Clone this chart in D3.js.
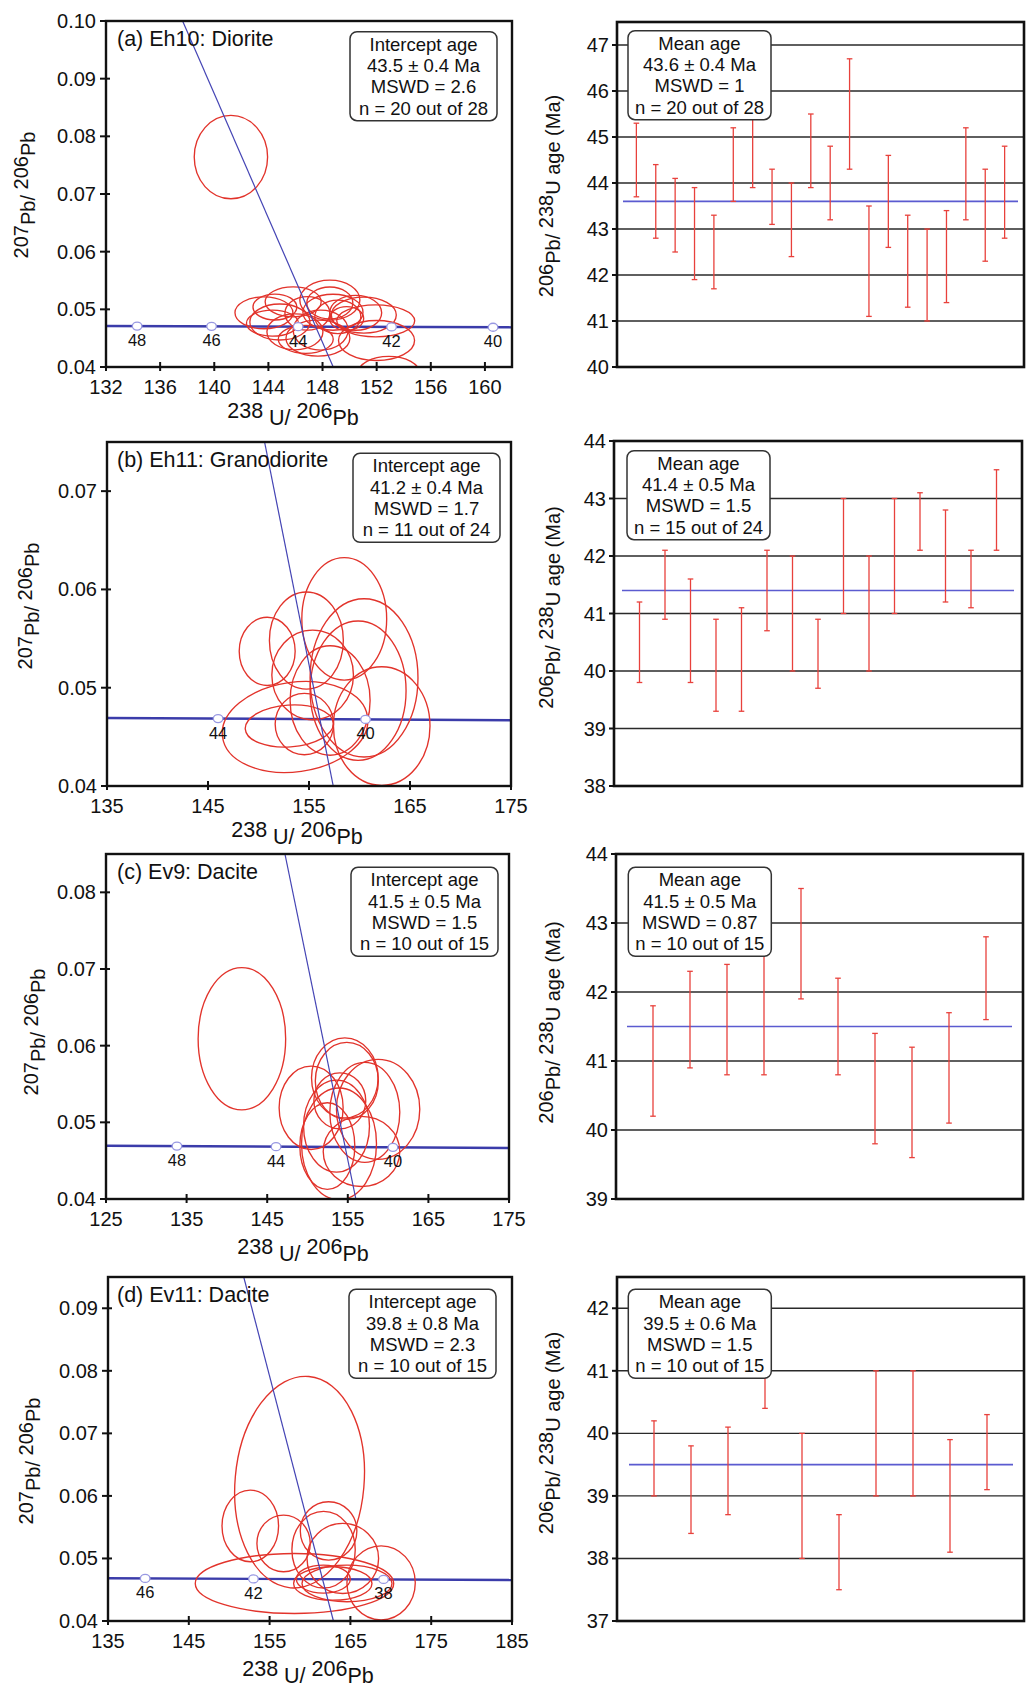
<!DOCTYPE html>
<html><head><meta charset="utf-8">
<script src="https://cdn.jsdelivr.net/npm/d3@7"></script>
<style>
body{margin:0;background:#fff}
svg{display:block}
text{font-family:"Liberation Sans",Arial,Helvetica,sans-serif;fill:#111}
</style>
</head><body>
<svg id="chart" width="1033" height="1688"></svg>
<script>
// ---------------- DATA ----------------
const sampleTitles = ["(a) Eh10: Diorite", "(b) Eh11: Granodiorite", "(c) Ev9: Dacite", "(d) Ev11: Dacite"];
const interceptAgeText = ["43.5 ± 0.4 Ma", "41.2 ± 0.4 Ma", "41.5 ± 0.5 Ma", "39.8 ± 0.8 Ma"];
const interceptMSWD = ["2.6", "1.7", "1.5", "2.3"];
const interceptN = ["n = 20 out of 28", "n = 11 out of 24", "n = 10 out of 15", "n = 10 out of 15"];
const meanAgeText = ["43.6 ± 0.4 Ma", "41.4 ± 0.5 Ma", "41.5 ± 0.5 Ma", "39.5 ± 0.6 Ma"];
const meanMSWD = ["1", "1.5", "0.87", "1.5"];
const meanN = ["n = 20 out of 28", "n = 15 out of 24", "n = 10 out of 15", "n = 10 out of 15"];
const meanAges = [43.6, 41.4, 41.5, 39.5];

// Tera-Wasserburg axes
const xDomainA = [132, 162], yDomainA = [0.04, 0.10];
const xDomainB = [135, 175], yDomainB = [0.04, 0.075];
const xDomainC = [125, 175], yDomainC = [0.04, 0.085];
const xDomainD = [135, 185], yDomainD = [0.04, 0.095];
const xTicksA = [132, 136, 140, 144, 148, 152, 156, 160];
const xTicksB = [135, 145, 155, 165, 175];
const xTicksC = [125, 135, 145, 155, 165, 175];
const xTicksD = [135, 145, 155, 165, 175, 185];
const yTicksA = [0.04, 0.05, 0.06, 0.07, 0.08, 0.09, 0.10];
const yTicksB = [0.04, 0.05, 0.06, 0.07];
const yTicksC = [0.04, 0.05, 0.06, 0.07, 0.08];
const yTicksD = [0.04, 0.05, 0.06, 0.07, 0.08, 0.09];

// error ellipses: [238U/206Pb, 207Pb/206Pb, half-width, half-height, tilt(deg)]
const ellipsesA = [
  [141.23, 0.0764, 2.71, 0.00723, 0],
  [143.67, 0.0494, 2.14, 0.00277, 0], [144.85, 0.0478, 2.22, 0.00312, 0],
  [144.48, 0.0504, 1.62, 0.00225, 0], [145.83, 0.0513, 2.07, 0.00260, 0],
  [145.96, 0.0461, 2.07, 0.00312, 0], [146.76, 0.0448, 2.03, 0.00243, 0],
  [146.88, 0.0493, 1.66, 0.00290, 0], [148.54, 0.0516, 2.22, 0.00347, 0],
  [147.86, 0.0464, 2.03, 0.00347, 0], [148.77, 0.0495, 2.22, 0.00312, 0],
  [149.13, 0.0487, 1.70, 0.00290, 0], [150.45, 0.0494, 1.92, 0.00303, 0],
  [151.05, 0.0490, 2.40, 0.00312, 0], [151.93, 0.0480, 2.88, 0.00277, 0],
  [151.99, 0.0446, 2.81, 0.00347, 0], [152.90, 0.0389, 2.29, 0.00295, 0],
  [147.66, 0.0450, 2.36, 0.00312, 0], [144.30, 0.0476, 1.92, 0.00225, 0],
  [148.54, 0.0511, 1.70, 0.00277, 0], [149.78, 0.0484, 1.26, 0.00208, 0]
];
const ellipsesB = [
  [150.86, 0.0537, 2.77, 0.00347, 0], [154.74, 0.0548, 3.66, 0.00494, 0],
  [158.49, 0.0570, 4.20, 0.00623, 0], [155.36, 0.0513, 4.04, 0.00456, 0],
  [160.45, 0.0510, 5.34, 0.00805, 0], [159.86, 0.0497, 4.75, 0.00709, 0],
  [162.20, 0.0461, 4.78, 0.00603, 0], [153.62, 0.0460, 7.25, 0.00456, -8],
  [153.05, 0.0461, 4.37, 0.00213, -4], [154.54, 0.0463, 2.89, 0.00312, 0],
  [157.09, 0.0487, 3.96, 0.00557, 0]
];
const ellipsesC = [
  [141.86, 0.0609, 5.43, 0.00928, 0],
  [154.63, 0.0558, 4.13, 0.00522, 0], [154.88, 0.0554, 3.91, 0.00502, 0],
  [150.45, 0.0519, 3.97, 0.00544, 0], [158.76, 0.0517, 5.17, 0.00652, 0],
  [152.46, 0.0469, 3.41, 0.00565, 0], [153.91, 0.0472, 4.65, 0.00728, 0],
  [156.70, 0.0462, 4.75, 0.00457, 0], [157.11, 0.0513, 4.34, 0.00652, 0],
  [153.60, 0.0495, 4.09, 0.00600, 0], [154.01, 0.0528, 3.22, 0.00365, 0]
];
const ellipsesD = [
  [158.71, 0.0622, 7.98, 0.01696, 5],
  [152.61, 0.0552, 3.50, 0.00573, 0], [156.73, 0.0524, 3.30, 0.00453, 0],
  [162.30, 0.0544, 3.50, 0.00467, 0], [161.68, 0.0514, 3.92, 0.00613, 0],
  [164.06, 0.0500, 4.43, 0.00560, 0], [158.08, 0.0460, 12.28, 0.00480, 0],
  [162.82, 0.0460, 4.85, 0.00267, 0], [164.58, 0.0460, 5.57, 0.00293, 0],
  [168.80, 0.0461, 4.23, 0.00592, 0], [161.65, 0.0467, 3.34, 0.00224, 0]
];

// regression (discordia) lines: two points [x, y]
const discordiaA = [[137.66, 0.10], [148.79, 0.04]];
const discordiaB = [[150.6, 0.075], [157.4, 0.04]];
const discordiaC = [[147.2, 0.085], [156.0, 0.04]];
const discordiaD = [[151.8, 0.095], [162.9, 0.04]];

// concordia curve ends and age markers
const concordiaLineA = [[132, 0.04711], [162, 0.04688]];
const concordiaLineB = [[135, 0.04692], [175, 0.04669]];
const concordiaLineC = [[125, 0.04695], [175, 0.04665]];
const concordiaLineD = [[135, 0.04683], [185, 0.04656]];
const concordiaAgesA = [48, 46, 44, 42, 40], concordiaXA = [134.3, 139.8, 146.2, 153.1, 160.6];
const concordiaAgesB = [44, 40], concordiaXB = [146.0, 160.6];
const concordiaAgesC = [48, 44, 40], concordiaXC = [133.8, 146.1, 160.6];
const concordiaAgesD = [46, 42, 38], concordiaXD = [139.6, 153.0, 169.1];

// 206Pb/238U ages (Ma): error-bar low / high
const ageLowA  = [43.7, 42.8, 42.5, 41.9, 41.7, 43.6, 43.9, 43.1, 42.4, 43.9, 43.2, 44.3, 41.1, 42.6, 41.3, 41.0, 41.4, 43.2, 42.3, 42.8];
const ageHighA = [45.3, 44.4, 44.1, 43.9, 43.3, 45.2, 45.4, 44.3, 44.0, 45.5, 44.8, 46.7, 43.5, 44.6, 43.3, 43.0, 43.4, 45.2, 44.3, 44.8];
const ageLowB  = [39.8, 40.9, 39.8, 39.3, 39.3, 40.7, 40.0, 39.7, 41.0, 40.0, 41.0, 42.1, 41.2, 41.1, 42.1];
const ageHighB = [41.2, 42.1, 41.6, 40.9, 41.1, 42.1, 42.0, 40.9, 43.0, 42.0, 43.0, 43.1, 42.8, 42.1, 43.5];
const ageLowC  = [40.2, 40.9, 40.8, 40.8, 41.9, 40.8, 39.8, 39.6, 40.1, 41.6];
const ageHighC = [41.8, 42.3, 42.4, 42.6, 43.5, 42.2, 41.4, 41.2, 41.7, 42.8];
const ageLowD  = [39.0, 38.4, 38.7, 40.4, 38.0, 37.5, 39.0, 39.0, 38.1, 39.1];
const ageHighD = [40.2, 39.8, 40.1, 42.0, 40.0, 38.7, 41.0, 41.0, 39.9, 40.3];
const ageDomainA = [40, 47.5], ageDomainB = [38, 44], ageDomainC = [39, 44], ageDomainD = [37, 42.5];
const ageTicksA = [40, 41, 42, 43, 44, 45, 46, 47];
const ageTicksB = [38, 39, 40, 41, 42, 43, 44];
const ageTicksC = [39, 40, 41, 42, 43, 44];
const ageTicksD = [37, 38, 39, 40, 41, 42];

// ---------------- LAYOUT ----------------
const FONT = 20;
const RED = "#e2332b", BLUE = "#3b3caa", MEANBLUE = "#5b5bd0", BARRED = "#e8413c";

const panels = [
  {ell: ellipsesA, disc: discordiaA, conc: concordiaLineA, cAges: concordiaAgesA, cX: concordiaXA,
   xDom: xDomainA, yDom: yDomainA, xT: xTicksA, yT: yTicksA,
   L: {x0:106, x1:512, y0:21, y1:367}, ylab: {x:28, y:195}, xlab: {x:293, dy:51}, box: {x:350, y:31.7},
   low: ageLowA, high: ageHighA, aDom: ageDomainA, aT: ageTicksA,
   R: {x0:617, x1:1024, y0:22, y1:367}, rlab: {y:196}, rbox: {x:628, y:30.7}, mx: [623, 1018]},
  {ell: ellipsesB, disc: discordiaB, conc: concordiaLineB, cAges: concordiaAgesB, cX: concordiaXB,
   xDom: xDomainB, yDom: yDomainB, xT: xTicksB, yT: yTicksB,
   L: {x0:107, x1:511, y0:442, y1:786}, ylab: {x:32, y:606}, xlab: {x:297, dy:51}, box: {x:353, y:453.3},
   low: ageLowB, high: ageHighB, aDom: ageDomainB, aT: ageTicksB,
   R: {x0:614, x1:1022, y0:441, y1:786}, rlab: {y:607.5}, rbox: {x:627, y:450.7}, mx: [622, 1014]},
  {ell: ellipsesC, disc: discordiaC, conc: concordiaLineC, cAges: concordiaAgesC, cX: concordiaXC,
   xDom: xDomainC, yDom: yDomainC, xT: xTicksC, yT: yTicksC,
   L: {x0:106, x1:509, y0:854, y1:1199}, ylab: {x:38, y:1032}, xlab: {x:303, dy:55}, box: {x:351, y:867.3},
   low: ageLowC, high: ageHighC, aDom: ageDomainC, aT: ageTicksC,
   R: {x0:616, x1:1023, y0:854, y1:1199}, rlab: {y:1022.5}, rbox: {x:628.3, y:867.3}, mx: [627, 1012]},
  {ell: ellipsesD, disc: discordiaD, conc: concordiaLineD, cAges: concordiaAgesD, cX: concordiaXD,
   xDom: xDomainD, yDom: yDomainD, xT: xTicksD, yT: yTicksD,
   L: {x0:108, x1:512, y0:1277, y1:1621}, ylab: {x:33, y:1461}, xlab: {x:308, dy:55}, box: {x:349, y:1289.3},
   low: ageLowD, high: ageHighD, aDom: ageDomainD, aT: ageTicksD,
   R: {x0:617, x1:1024, y0:1277, y1:1621}, rlab: {y:1433}, rbox: {x:628.3, y:1289.3}, mx: [629, 1013]}
];

const svg = d3.select("#chart");
svg.append("rect").attr("width", 1033).attr("height", 1688).attr("fill", "#fff");

function infoBox(g, x, y, w, h, lines) {
  g.append("rect").attr("x", x).attr("y", y).attr("width", w).attr("height", h)
    .attr("rx", 7).attr("ry", 7).attr("fill", "#fff").attr("stroke", "#333").attr("stroke-width", 1.5);
  lines.forEach((t, i) => {
    g.append("text").attr("x", x + w / 2).attr("y", y + 19 + i * 21.3)
      .attr("text-anchor", "middle").attr("font-size", 18.5).text(t);
  });
}

function stackedLabel(g, parts, x, y, rotate, size) {
  const t = g.append("text").attr("font-size", size).attr("text-anchor", "middle")
    .attr("transform", `translate(${x},${y})` + (rotate ? " rotate(-90)" : ""));
  let cur = 0;
  parts.forEach(p => {
    const shift = p.low ? 7 : 0;
    t.append("tspan").attr("dy", shift - cur).text(p.t);
    cur = shift;
  });
  return t;
}

panels.forEach((p, pi) => {
  // ---------- LEFT: Tera-Wasserburg ----------
  const L = p.L;
  const g = svg.append("g");
  const x = d3.scaleLinear().domain(p.xDom).range([L.x0, L.x1]);
  const y = d3.scaleLinear().domain(p.yDom).range([L.y1, L.y0]);
  const clipId = "clipL" + pi;
  svg.append("clipPath").attr("id", clipId).append("rect")
    .attr("x", L.x0).attr("y", L.y0).attr("width", L.x1 - L.x0).attr("height", L.y1 - L.y0);
  const inner = g.append("g").attr("clip-path", `url(#${clipId})`);

  // concordia
  inner.append("path").datum(p.conc)
    .attr("d", d3.line().x(d => x(d[0])).y(d => y(d[1])))
    .attr("stroke", BLUE).attr("stroke-width", 2.4).attr("fill", "none");

  // ellipses
  inner.selectAll("ellipse.e").data(p.ell).join("ellipse")
    .attr("cx", 0).attr("cy", 0)
    .attr("rx", d => Math.abs(x(d[0] + d[2]) - x(d[0])))
    .attr("ry", d => Math.abs(y(d[1] + d[3]) - y(d[1])))
    .attr("transform", d => `translate(${x(d[0])},${y(d[1])}) rotate(${d[4]})`)
    .attr("fill", "none").attr("stroke", RED).attr("stroke-width", 1.35);

  // discordia
  inner.append("line")
    .attr("x1", x(p.disc[0][0])).attr("y1", y(p.disc[0][1]))
    .attr("x2", x(p.disc[1][0])).attr("y2", y(p.disc[1][1]))
    .attr("stroke", "#4444b4").attr("stroke-width", 1.2);

  // concordia age markers
  const concY = d3.scaleLinear().domain(p.conc.map(d => d[0])).range(p.conc.map(d => d[1]));
  const mk = p.cAges.map((a, i) => ({age: a, x: p.cX[i]}));
  g.selectAll("ellipse.m").data(mk).join("ellipse")
    .attr("cx", d => x(d.x)).attr("cy", d => y(concY(d.x)))
    .attr("rx", 4.8).attr("ry", 4).attr("fill", "#fff")
    .attr("stroke", "#9898e2").attr("stroke-width", 1.3);
  g.selectAll("text.m").data(mk).join("text")
    .attr("x", d => x(d.x)).attr("y", d => y(concY(d.x)) + 20)
    .attr("text-anchor", "middle").attr("font-size", 16.5).attr("fill", "#333")
    .text(d => d.age);

  // frame
  g.append("rect").attr("x", L.x0).attr("y", L.y0).attr("width", L.x1 - L.x0).attr("height", L.y1 - L.y0)
    .attr("fill", "none").attr("stroke", "#111").attr("stroke-width", 2.4);

  // ticks
  g.selectAll("line.xt").data(p.xT).join("line")
    .attr("x1", d => x(d)).attr("x2", d => x(d)).attr("y1", L.y1 - 5).attr("y2", L.y1 + 4)
    .attr("stroke", "#111").attr("stroke-width", 2);
  g.selectAll("text.xt").data(p.xT).join("text")
    .attr("x", d => x(d)).attr("y", L.y1 + 27).attr("text-anchor", "middle")
    .attr("font-size", FONT).text(d => d);
  g.selectAll("line.yt").data(p.yT).join("line")
    .attr("y1", d => y(d)).attr("y2", d => y(d)).attr("x1", L.x0 - 6).attr("x2", L.x0 + 4)
    .attr("stroke", "#111").attr("stroke-width", 2);
  g.selectAll("text.yt").data(p.yT).join("text")
    .attr("x", L.x0 - 10).attr("y", d => y(d) + 7).attr("text-anchor", "end")
    .attr("font-size", FONT).text(d => d3.format(".2f")(d));

  // title
  g.append("text").attr("x", 117).attr("y", L.y0 + 25).attr("font-size", 21.5).text(sampleTitles[pi]);

  // intercept box
  infoBox(g, p.box.x, p.box.y, 147, 89,
    ["Intercept age", interceptAgeText[pi], "MSWD = " + interceptMSWD[pi], interceptN[pi]]);

  // axis labels
  stackedLabel(g, [{t:"238"}, {t:" U/", low:true}, {t:" 206"}, {t:"Pb", low:true}],
    p.xlab.x, L.y1 + p.xlab.dy, false, 21.5);
  stackedLabel(g, [{t:"207"}, {t:"Pb/", low:true}, {t:" 206"}, {t:"Pb", low:true}],
    p.ylab.x, p.ylab.y, true, 20);

  // ---------- RIGHT: weighted mean ages ----------
  const R = p.R;
  const gr = svg.append("g");
  const n = p.low.length;
  const bx = d3.scaleLinear().domain([0, n + 1]).range([R.x0, R.x1]);
  const by = d3.scaleLinear().domain(p.aDom).range([R.y1, R.y0]);

  gr.selectAll("line.grid").data(p.aT.slice(1)).join("line")
    .attr("x1", R.x0).attr("x2", R.x1).attr("y1", d => by(d)).attr("y2", d => by(d))
    .attr("stroke", "#2a2a2a").attr("stroke-width", 1.4);

  gr.append("line").attr("x1", p.mx[0]).attr("x2", p.mx[1])
    .attr("y1", by(meanAges[pi])).attr("y2", by(meanAges[pi]))
    .attr("stroke", MEANBLUE).attr("stroke-width", 1.6);

  const bars = p.low.map((lo, i) => ({i: i + 1, lo, hi: p.high[i]}));
  const bg = gr.selectAll("g.bar").data(bars).join("g");
  bg.append("line").attr("x1", d => bx(d.i)).attr("x2", d => bx(d.i))
    .attr("y1", d => by(d.lo)).attr("y2", d => by(d.hi))
    .attr("stroke", BARRED).attr("stroke-width", 1.3);
  bg.append("line").attr("x1", d => bx(d.i) - 2.8).attr("x2", d => bx(d.i) + 2.8)
    .attr("y1", d => by(d.lo)).attr("y2", d => by(d.lo))
    .attr("stroke", BARRED).attr("stroke-width", 1.3);
  bg.append("line").attr("x1", d => bx(d.i) - 2.8).attr("x2", d => bx(d.i) + 2.8)
    .attr("y1", d => by(d.hi)).attr("y2", d => by(d.hi))
    .attr("stroke", BARRED).attr("stroke-width", 1.3);

  gr.append("rect").attr("x", R.x0).attr("y", R.y0).attr("width", R.x1 - R.x0).attr("height", R.y1 - R.y0)
    .attr("fill", "none").attr("stroke", "#111").attr("stroke-width", 2.6);

  gr.selectAll("line.yt").data(p.aT).join("line")
    .attr("x1", R.x0 - 5).attr("x2", R.x0).attr("y1", d => by(d)).attr("y2", d => by(d))
    .attr("stroke", "#111").attr("stroke-width", 2);
  gr.selectAll("text.yt").data(p.aT).join("text")
    .attr("x", R.x0 - 8).attr("y", d => by(d) + 7).attr("text-anchor", "end")
    .attr("font-size", FONT).text(d => d);

  infoBox(gr, p.rbox.x, p.rbox.y, 143, 89,
    ["Mean age", meanAgeText[pi], "MSWD = " + meanMSWD[pi], meanN[pi]]);

  stackedLabel(gr, [{t:"206"}, {t:"Pb/", low:true}, {t:" 238"}, {t:"U age (Ma)", low:true}],
    553, p.rlab.y, true, 20);
});
</script>
</body></html>
